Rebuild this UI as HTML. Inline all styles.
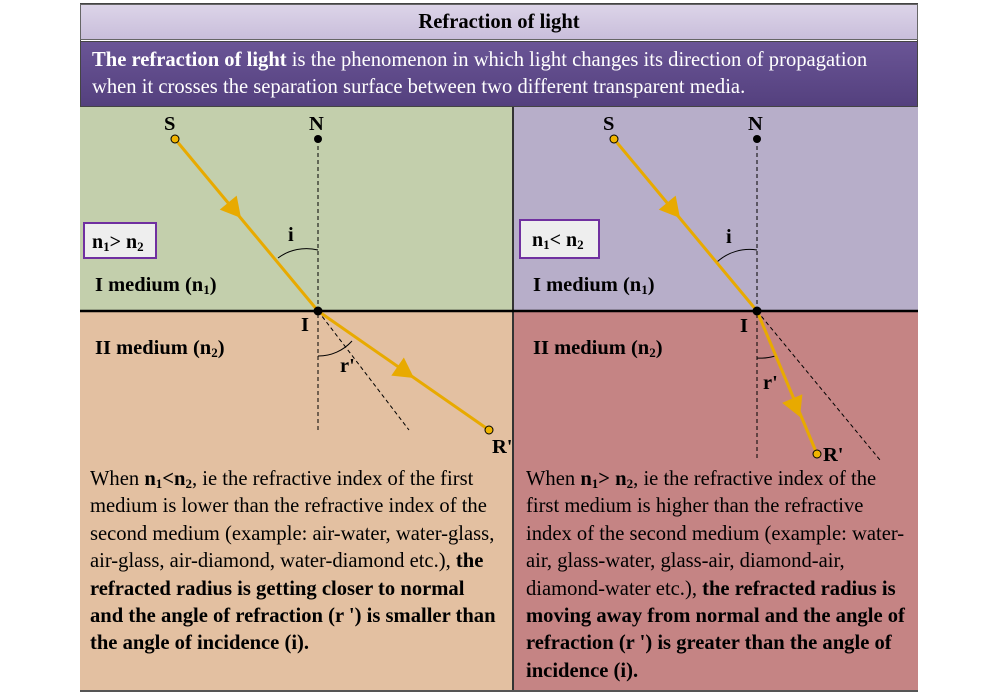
<!DOCTYPE html>
<html><head><meta charset="utf-8"><style>
html,body{margin:0;padding:0;background:#fff;width:1000px;height:696px;overflow:hidden;font-family:"Liberation Serif",serif;}
.abs{position:absolute;}
.para{position:absolute;font-size:20.6px;line-height:27.4px;color:#000;white-space:nowrap;}
sub{font-size:13px;vertical-align:-3px;line-height:0;}
</style></head><body>
<div class="abs" style="left:80px;top:3px;width:838px;height:689px;background:#fff;border:1px solid #444;box-sizing:border-box;"></div>
<div class="abs" style="left:80px;top:4px;width:838px;height:36px;background:linear-gradient(#dcd4e8,#c9bedb);border:1px solid #666;box-sizing:border-box;text-align:center;font-weight:bold;font-size:20.6px;line-height:34px;">Refraction of light</div>
<div class="abs" style="left:80px;top:41px;width:838px;height:66px;background:linear-gradient(#6a5596,#54407e);border:1px solid #444;box-sizing:border-box;color:#fff;font-size:20.6px;line-height:27px;padding:5px 0 0 11px;white-space:nowrap;"><b>The refraction of light</b> is the phenomenon in which light changes its direction of propagation<br>when it crosses the separation surface between two different transparent media.</div>
<div class="abs" style="left:80px;top:107px;width:433px;height:204px;background:#c3cfac;"></div>
<div class="abs" style="left:80px;top:311px;width:433px;height:381px;background:#e3c0a1;"></div>
<div class="abs" style="left:513px;top:107px;width:405px;height:204px;background:#b7aec9;"></div>
<div class="abs" style="left:513px;top:311px;width:405px;height:381px;background:#c58484;"></div>
<div class="abs" style="left:512px;top:107px;width:2px;height:585px;background:#333;"></div>
<div class="abs" style="left:80px;top:690px;width:838px;height:2px;background:#555;"></div>

<svg class="abs" style="left:0;top:0" width="1000" height="696">
<line x1="80" y1="311" x2="918" y2="311" stroke="#000" stroke-width="2.5"/>
<g stroke="#000" stroke-width="1" stroke-dasharray="4,3" fill="none">
<line x1="318" y1="139" x2="318" y2="432"/>
<line x1="318" y1="311" x2="409" y2="430"/>
<line x1="757" y1="139" x2="757" y2="458"/>
<line x1="757" y1="311" x2="880" y2="460"/>
</g>
<g stroke="#000" stroke-width="1" fill="none">
<path d="M278 258 A48 48 0 0 1 318 250"/>
<path d="M318 356 A45 45 0 0 0 352 341"/>
<path d="M717 262 A48 48 0 0 1 757 250"/>
<path d="M757 358 A48 48 0 0 0 775 356"/>
</g>
<g stroke="#e8aa00" stroke-width="3" fill="none">
<line x1="175" y1="139" x2="318" y2="311"/>
<line x1="318" y1="311" x2="489" y2="430"/>
<line x1="614" y1="139" x2="757" y2="311"/>
<line x1="757" y1="311" x2="817" y2="454"/>
</g>
<g fill="#e8aa00">
<polygon points="0,0 -20,-11 -20,11" transform="translate(241,218) rotate(50.3)"/>
<polygon points="0,0 -20,-11 -20,11" transform="translate(414,378) rotate(34.8)"/>
<polygon points="0,0 -20,-11 -20,11" transform="translate(680,218) rotate(50.3)"/>
<polygon points="0,0 -20,-11 -20,11" transform="translate(800,417) rotate(67.2)"/>
</g>
<g fill="#f0b400" stroke="#000" stroke-width="1">
<circle cx="175" cy="139" r="4"/>
<circle cx="489" cy="430" r="4"/>
<circle cx="614" cy="139" r="4"/>
<circle cx="817" cy="454" r="4"/>
</g>
<g fill="#000">
<circle cx="318" cy="139" r="4"/>
<circle cx="318" cy="311" r="4.5"/>
<circle cx="757" cy="139" r="4"/>
<circle cx="757" cy="311" r="4.5"/>
</g>
<g font-family="Liberation Serif, serif" font-weight="bold" font-size="20.5" fill="#000">
<text x="164" y="130">S</text>
<text x="309" y="130">N</text>
<text x="288" y="241">i</text>
<text x="301" y="331">I</text>
<text x="340" y="372">r'</text>
<text x="492" y="453">R'</text>
<text x="95" y="291">I medium (n<tspan font-size="13" dy="3">1</tspan><tspan dy="-3">)</tspan></text>
<text x="95" y="354">II medium (n<tspan font-size="13" dy="3">2</tspan><tspan dy="-3">)</tspan></text>
<text x="603" y="130">S</text>
<text x="748" y="130">N</text>
<text x="726" y="243">i</text>
<text x="740" y="332">I</text>
<text x="763" y="389">r'</text>
<text x="823" y="461">R'</text>
<text x="533" y="291">I medium (n<tspan font-size="13" dy="3">1</tspan><tspan dy="-3">)</tspan></text>
<text x="533" y="354">II medium (n<tspan font-size="13" dy="3">2</tspan><tspan dy="-3">)</tspan></text>
</g>
<g>
<rect x="84" y="223" width="72" height="35" fill="#eeeeee" stroke="#7030a0" stroke-width="2"/>
<text x="92" y="248" font-family="Liberation Serif, serif" font-weight="bold" font-size="20">n<tspan font-size="13" dy="3">1</tspan><tspan dy="-3">&gt; n</tspan><tspan font-size="13" dy="3">2</tspan></text>
</g>
<g>
<rect x="520" y="220" width="79" height="38" fill="#eeeeee" stroke="#7030a0" stroke-width="2"/>
<text x="532" y="246" font-family="Liberation Serif, serif" font-weight="bold" font-size="20">n<tspan font-size="13" dy="3">1</tspan><tspan dy="-3">&lt; n</tspan><tspan font-size="13" dy="3">2</tspan></text>
</g>
</svg>

<div class="para" style="left:90px;top:466px;">When <b>n<sub>1</sub>&lt;n<sub>2</sub></b>, ie the refractive index of the first<br>medium is lower than the refractive index of the<br>second medium (example: air-water, water-glass,<br>air-glass, air-diamond, water-diamond etc.), <b>the</b><br><b>refracted radius is getting closer to normal</b><br><b>and the angle of refraction (r ') is smaller than</b><br><b>the angle of incidence (i).</b></div>
<div class="para" style="left:526px;top:466px;">When <b>n<sub>1</sub>&gt; n<sub>2</sub></b>, ie the refractive index of the<br>first medium is higher than the refractive<br>index of the second medium (example: water-<br>air, glass-water, glass-air, diamond-air,<br>diamond-water etc.), <b>the refracted radius is</b><br><b>moving away from normal and the angle of</b><br><b>refraction (r ') is greater than the angle of</b><br><b>incidence (i).</b></div>
</body></html>
